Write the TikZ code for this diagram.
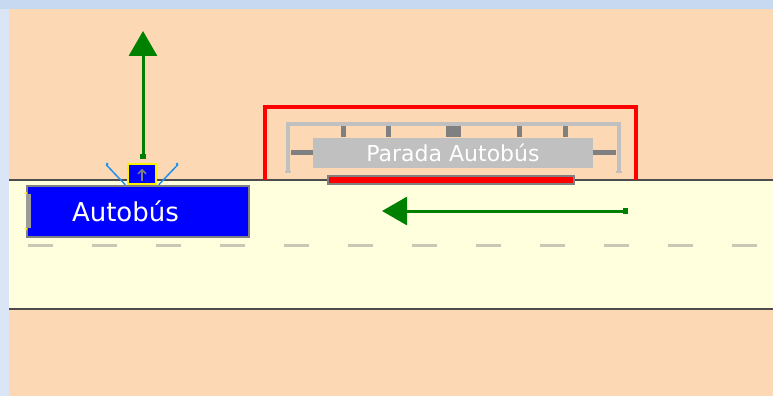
\documentclass[tikz,border=0pt]{standalone}
\usepackage{fontspec}
\setmainfont{DejaVu Sans}
\usepackage{xcolor}
\usepackage{tikz}
\usetikzlibrary{arrows.meta}

\definecolor{lot}{HTML}{FCD9B4}
\definecolor{road}{HTML}{FFFFDD}
\definecolor{frameblue}{HTML}{C6D9F1}
\definecolor{sideblue}{HTML}{DAE5F5}
\definecolor{stopgray}{HTML}{C0C0C0}
\definecolor{darkgray2}{HTML}{808080}
\definecolor{dashgray}{HTML}{C8C8B4}
\definecolor{movegreen}{HTML}{008000}
\definecolor{sensorblue}{HTML}{2090F0}

\tikzset{
  move/.style={draw=movegreen, line width=3pt,
    {Square[length=5pt,width=6pt]}-{Triangle[length=25pt,width=28pt]}},
  busbox/.style={draw=darkgray2, line width=1.5pt, fill=blue, text=white,
    minimum width=222pt, minimum height=51pt, text width=132pt,
    inner xsep=45pt, align=left, font=\fontsize{26}{28}\selectfont},
  stopbox/.style={fill=stopgray, text=white, minimum width=280pt,
    minimum height=30pt, inner sep=0pt, font=\fontsize{22}{25}\selectfont}
}

\begin{document}
\begin{tikzpicture}[x=1pt, y=-1pt]
  \useasboundingbox (0,0) rectangle (773,396);
  % ground
  \fill[frameblue] (0,0) rectangle (773,396);
  \fill[sideblue]  (0,9) rectangle (9,396);
  \fill[lot]       (9,9) rectangle (773,396);
  \fill[road]      (9,180) rectangle (773,309);
  \draw[line width=1.5pt, black!70] (9,180) -- (773,180);
  \draw[line width=1.5pt, black!70] (9,309) -- (773,309);
  \foreach \x in {28,92,...,732}
    \draw[dashgray, line width=3pt] (\x,245) -- ++(25,0);

  % bus stop
  \draw[red, line width=4pt] (265,180) -- (265,107) -- (636,107) -- (636,180);
  \draw[stopgray, line width=4.5pt] (288,173) -- (288,124) -- (619,124) -- (619,173);
  \draw[stopgray, line width=2pt] (285,172) -- (291,172);
  \draw[stopgray, line width=2pt] (616,172) -- (622,172);
  \foreach \x in {343,388,519,565}
    \fill[darkgray2] (\x-2.5,126) rectangle (\x+2.5,137);
  \fill[darkgray2] (446,126) rectangle (461,137);
  \node[stopbox] (stop) at (453,152.5) {Parada Autobús};
  \draw[darkgray2, line width=5pt] (stop.west) -- ++(-22,0);
  \draw[darkgray2, line width=5pt] (stop.east) -- ++(23,0);
  \node[draw=darkgray2, line width=1.5pt, fill=red, minimum width=246pt,
    minimum height=8pt, inner sep=0pt] (curb) at (451,180) {};

  % bus
  \node[busbox] (bus) at (138,211.5) {Autobús};
  \draw[darkgray2!80, line width=5pt] (28,194) -- (28,228);
  \fill[yellow] (26,193) circle (1.5);
  \fill[yellow] (26,229) circle (1.5);
  \node[draw=yellow, line width=1.5pt, fill=blue, minimum width=28pt,
    minimum height=20pt, inner sep=0pt] (sensor) at (142,174) {};
  \draw[gray, line width=1.5pt, -{Straight Barb[length=4pt,width=8pt]}]
    (sensor.south) ++(0,-4) -- ++(0,-12);
  \draw[sensorblue, line width=1.5pt] (sensor.south west) ++(-2,0) -- ++(-19,-20);
  \draw[sensorblue, line width=1.5pt] (sensor.south east) ++(2,0) -- ++(19,-20);
  \fill[sensorblue] (107,164) circle (1.5);
  \fill[sensorblue] (177,164) circle (1.5);

  % movement
  \coordinate (busfrom) at (143,159);
  \coordinate (busto) at (143,31);
  \draw[move] (busfrom) -- (busto);
  \coordinate (flowfrom) at (628,211);
  \coordinate (flowto) at (382,211);
  \draw[move] (flowfrom) -- (flowto);
\end{tikzpicture}
\end{document}
